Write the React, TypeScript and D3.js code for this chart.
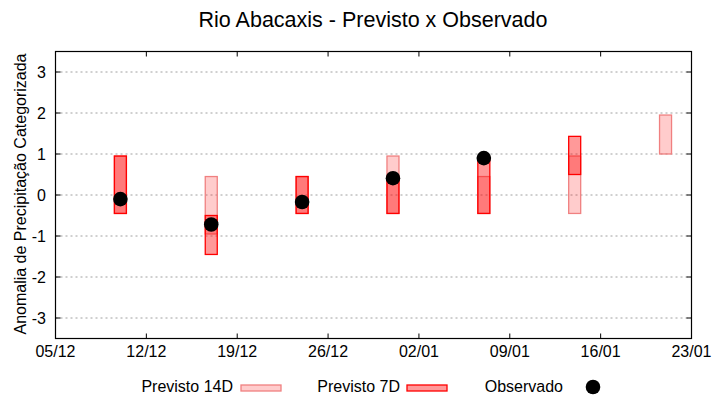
import * as d3 from "d3";

// Observações e previsões por semana (anomalia categorizada)
const dates = ["2023-12-10", "2023-12-17", "2023-12-24", "2023-12-31", "2024-01-07", "2024-01-14", "2024-01-21"];
const p14Low = [-0.45, -0.95, -0.45, -0.45, -0.45, -0.45, 1.0];
const p14High = [0.95, 0.45, 0.45, 0.95, 0.45, 0.95, 1.95];
const p7Low: (number | null)[] = [-0.45, -1.45, -0.45, -0.45, -0.45, 0.5, null];
const p7High: (number | null)[] = [0.95, -0.5, 0.45, 0.45, 0.92, 1.43, null];
const observed: (number | null)[] = [-0.1, -0.72, -0.17, 0.41, 0.9, null, null];

const xTickLabels = ["05/12", "12/12", "19/12", "26/12", "02/01", "09/01", "16/01", "23/01"];
const xTickDates = ["2023-12-05", "2023-12-12", "2023-12-19", "2023-12-26", "2024-01-02", "2024-01-09", "2024-01-16", "2024-01-23"];
const yTicks = [-3, -2, -1, 0, 1, 2, 3];

const W = 720;
const H = 400;
const L = 55.5;
const R = 691.5;
const T = 51.5;
const B = 338.5;
const BAR_W = 12;
const FONT = "Liberation Sans, Arial, sans-serif";

const parse = (s: string) => new Date(s + "T00:00:00");

export default function App() {
  const x = d3.scaleTime().domain([parse("2023-12-05"), parse("2024-01-23")]).range([L, R]);
  const y = d3.scaleLinear().domain([-3.5, 3.5]).range([B, T]);

  return (
    <div style={{ position: "fixed", left: 0, top: 0 }}>
      <svg width={W} height={H} style={{ display: "block", background: "#fff" }} fontFamily={FONT}>
        <text x={373} y={27} fontSize={21.5} textAnchor="middle" fill="#000">
          Rio Abacaxis - Previsto x Observado
        </text>

        {/* grid */}
        {yTicks.map((t) => (
          <line key={"g" + t} x1={L} x2={R} y1={y(t)} y2={y(t)} stroke="#a0a0a0" strokeDasharray="2,3" />
        ))}

        {/* Previsto 14D */}
        {dates.map((d, i) => {
          const cx = x(parse(d));
          return (
            <rect
              key={"p14" + d}
              x={cx - BAR_W / 2}
              y={y(p14High[i])}
              width={BAR_W}
              height={y(p14Low[i]) - y(p14High[i])}
              fill="rgba(255,0,0,0.2)"
              stroke="#f08080"
              strokeWidth={1.3}
            />
          );
        })}

        {/* Previsto 7D */}
        {dates.map((d, i) => {
          const lo = p7Low[i];
          const hi = p7High[i];
          if (lo == null || hi == null) return null;
          const cx = x(parse(d));
          return (
            <rect
              key={"p7" + d}
              x={cx - BAR_W / 2}
              y={y(hi)}
              width={BAR_W}
              height={y(lo) - y(hi)}
              fill="rgba(255,0,0,0.4)"
              stroke="#ff0000"
              strokeWidth={1.3}
            />
          );
        })}

        {/* Observado */}
        {dates.map((d, i) => {
          const v = observed[i];
          if (v == null) return null;
          return <circle key={"o" + d} cx={x(parse(d))} cy={y(v)} r={7.3} fill="#000" />;
        })}

        {/* frame */}
        <rect x={L} y={T} width={R - L} height={B - T} fill="none" stroke="#000" strokeWidth={1.2} />

        {/* y ticks */}
        {yTicks.map((t) => (
          <g key={"y" + t}>
            <line x1={L} x2={L + 5} y1={y(t)} y2={y(t)} stroke="#000" />
            <line x1={R - 5} x2={R} y1={y(t)} y2={y(t)} stroke="#000" />
            <text x={46} y={y(t) + 6} fontSize={16} textAnchor="end" fill="#000">
              {t}
            </text>
          </g>
        ))}

        {/* x ticks */}
        {xTickDates.map((d, i) => {
          const px = x(parse(d));
          return (
            <g key={"x" + d}>
              <line x1={px} x2={px} y1={B} y2={B - 5} stroke="#000" />
              <line x1={px} x2={px} y1={T} y2={T + 5} stroke="#000" />
              <text x={px} y={357} fontSize={16} textAnchor="middle" fill="#000">
                {xTickLabels[i]}
              </text>
            </g>
          );
        })}

        <text
          transform={`translate(26,194) rotate(-90)`}
          fontSize={16}
          textAnchor="middle"
          fill="#000"
        >
          Anomalia de Precipitação Categorizada
        </text>

        {/* legend */}
        <text x={233} y={392} fontSize={16} textAnchor="end" fill="#000">Previsto 14D</text>
        <rect x={241} y={385} width={40} height={6} fill="rgba(255,0,0,0.2)" stroke="#f08080" strokeWidth={1.3} />
        <text x={400} y={392} fontSize={16} textAnchor="end" fill="#000">Previsto 7D</text>
        <rect x={407} y={385} width={40} height={6} fill="rgba(255,0,0,0.4)" stroke="#ff0000" strokeWidth={1.3} />
        <text x={563} y={392} fontSize={16} textAnchor="end" fill="#000">Observado</text>
        <circle cx={593} cy={387} r={7.3} fill="#000" />
      </svg>
    </div>
  );
}
